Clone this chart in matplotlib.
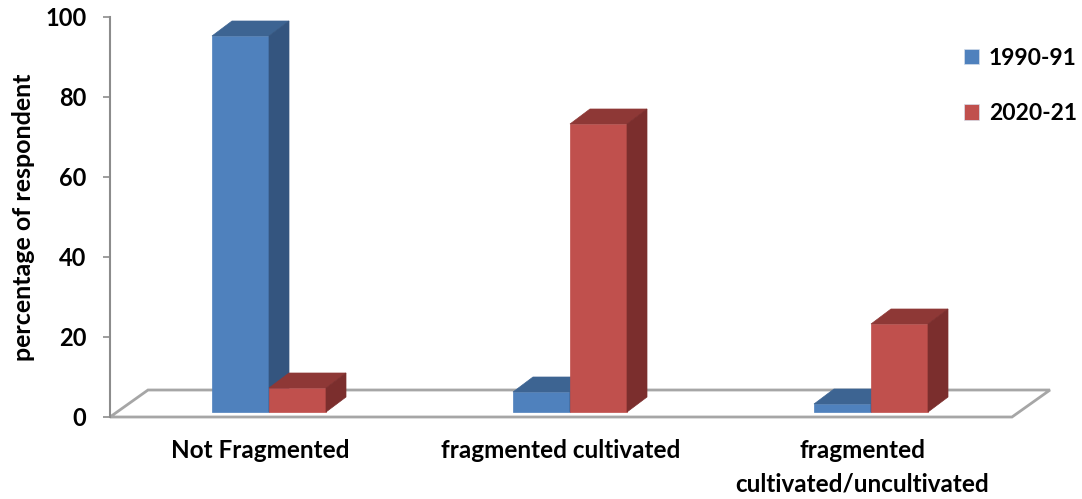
import matplotlib
matplotlib.use("Agg")
import matplotlib.pyplot as plt
from matplotlib.patches import Polygon, Patch
import numpy as np

categories = ["Not Fragmented", "fragmented cultivated", "fragmented\ncultivated/uncultivated"]
series_names = ["1990-91", "2020-21"]
values_1990 = [94, 5, 2]
values_2020 = [6, 72, 22]
yticks = [0, 20, 40, 60, 80, 100]

front_cols = ["#4F81BD", "#C0504D"]
top_cols = ["#3D6492", "#8E3836"]
side_cols = ["#34557F", "#7B2E2D"]

plt.rcParams['font.family'] = ['Lato', 'DejaVu Sans']
plt.rcParams['font.weight'] = 'bold'

W, H = 1082, 499
fig = plt.figure(figsize=(W / 100, H / 100), dpi=100)
# axes in pixel terms: y-axis at x=110, 0 at y=417, 100 at y=17
ax_left, ax_right = 110, 1050
ax = fig.add_axes([ax_left / W, (H - 417) / H, (ax_right - ax_left) / W, 400 / H])

px = 1 / 301.0          # category units per pixel
py = 0.25               # data units per pixel
x0_cat = (ax_left - 269) * px
ax.set_xlim(x0_cat, x0_cat + (ax_right - ax_left) * px)
ax.set_ylim(0, 100)

# floor
fdx, fdy = 38 * px, 27 * py
floor_w = (1012 - ax_left) * px
floor = Polygon([(x0_cat, 0), (x0_cat + floor_w, 0), (x0_cat + floor_w + fdx, fdy),
                 (x0_cat + fdx, fdy)], closed=True, facecolor="white",
                edgecolor="#A6A6A6", lw=2, clip_on=False, zorder=1)
ax.add_patch(floor)

# bars
x = np.arange(len(categories))
bw = 57 * px
base = 5 * py
dx, dy = 20 * px, 15 * py
for g in range(len(categories)):
    for i, vals in enumerate([values_1990, values_2020]):
        xl = x[g] - bw + i * bw
        xr = xl + bw
        top = base + vals[g]
        z = 2 + g * 2 + i
        ax.bar(xl, vals[g], width=bw, bottom=base, align="edge", color=front_cols[i],
               edgecolor=front_cols[i], lw=0.5, zorder=z, clip_on=False)
        ax.add_patch(Polygon([(xl, top), (xr, top), (xr + dx, top + dy), (xl + dx, top + dy)],
                             facecolor=top_cols[i], edgecolor=top_cols[i], lw=0.5,
                             zorder=z, clip_on=False))
        ax.add_patch(Polygon([(xr, base), (xr, top), (xr + dx, top + dy), (xr + dx, base + dy)],
                             facecolor=side_cols[i], edgecolor=side_cols[i], lw=0.5,
                             zorder=z, clip_on=False))

for s in ["top", "right", "bottom"]:
    ax.spines[s].set_visible(False)
ax.spines["left"].set_color("#8C8C8C")
ax.spines["left"].set_linewidth(1.5)
ax.set_yticks(yticks)
ax.set_yticklabels([str(v) for v in yticks], fontsize=17, fontweight="bold")
ax.tick_params(axis="y", length=5, width=1.2, color="#8C8C8C", pad=12)
ax.set_xticks(x - 9 * px)
ax.set_xticklabels(categories, fontsize=17.5, fontweight="bold", linespacing=1.55)
ax.tick_params(axis="x", length=0, pad=16)
ax.patch.set_visible(False)

fig.text(24 / W, 1 - 217 / H, "percentage of respondent", rotation=90, ha="center",
         va="center", fontsize=18, fontweight="bold")

handles = [Patch(facecolor=front_cols[0], edgecolor="#D5DEEA", lw=0.5),
           Patch(facecolor=front_cols[1], edgecolor="#D5DEEA", lw=0.5)]
fig.legend(handles, series_names, loc="upper left", bbox_to_anchor=(943 / W, 1 - 27 / H),
           frameon=False, prop={"weight": "bold", "size": 16.5},
           handlelength=0.65, handleheight=0.65, labelspacing=1.5, handletextpad=0.45)

fig.savefig("out.png", dpi=100)
